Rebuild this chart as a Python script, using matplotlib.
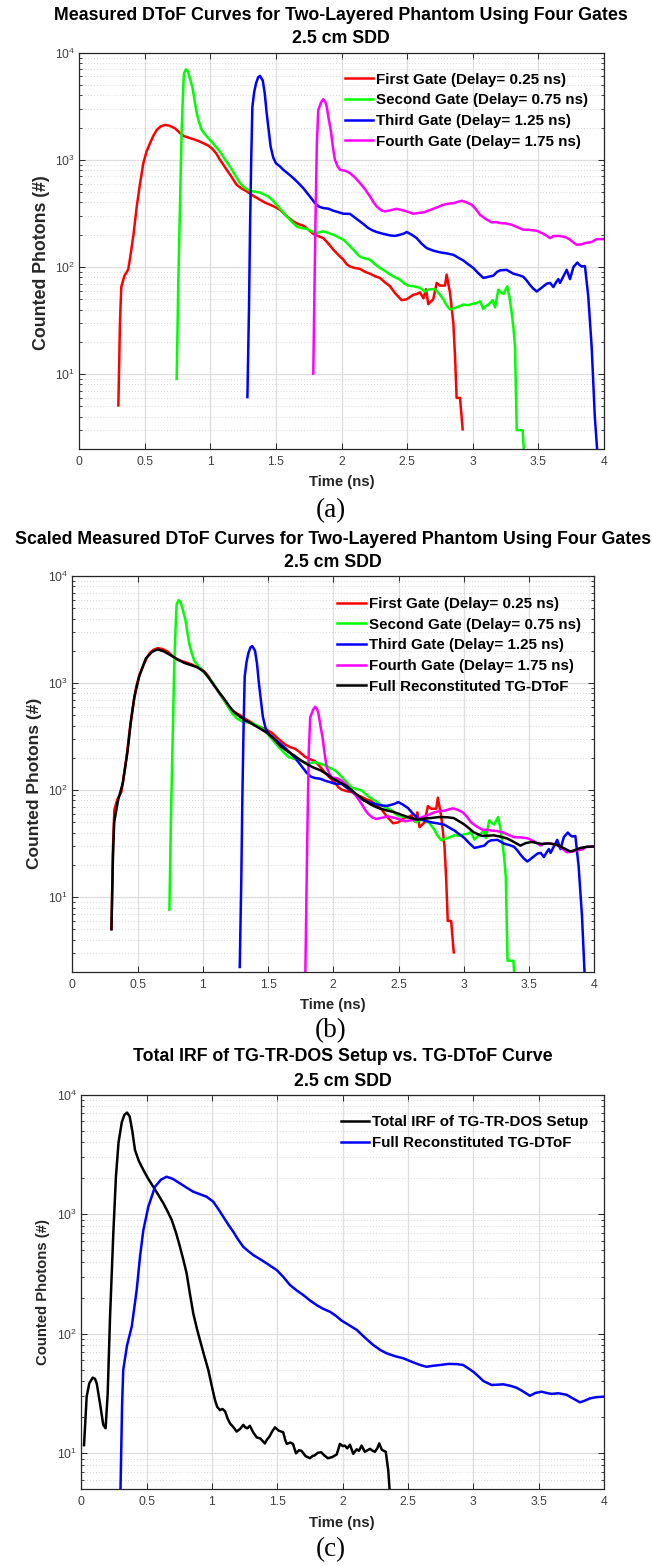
import numpy as np
import matplotlib
matplotlib.use("Agg")
import matplotlib.pyplot as plt
from matplotlib.ticker import (FixedLocator, LogLocator, NullFormatter,
                               FuncFormatter, NullLocator)

plt.rcParams['font.family'] = ['Liberation Sans', 'DejaVu Sans']
plt.rcParams['mathtext.fontset'] = 'custom'
plt.rcParams['mathtext.rm'] = 'Liberation Sans'
plt.rcParams['mathtext.it'] = 'Liberation Sans:italic'
plt.rcParams['mathtext.bf'] = 'Liberation Sans:bold'

# ---------------------------------------------------------------- data
# Gate 1 (delay 0.25 ns)
t_gate1 = [0.300, 0.312, 0.322, 0.345, 0.375, 0.389, 0.415, 0.440, 0.465, 0.490,
           0.515, 0.541, 0.567, 0.592, 0.620, 0.655, 0.690, 0.731, 0.765, 0.795,
           0.835, 0.871, 0.910, 0.947, 0.980, 1.011, 1.045, 1.074, 1.100, 1.125,
           1.160, 1.201, 1.240, 1.278, 1.330, 1.379, 1.415, 1.455, 1.490, 1.531,
           1.580, 1.633, 1.670, 1.709, 1.745, 1.785, 1.820, 1.861, 1.900, 1.938,
           1.975, 2.014, 2.040, 2.065, 2.100, 2.141, 2.180, 2.217, 2.255, 2.293,
           2.330, 2.370, 2.408, 2.458, 2.497, 2.547, 2.575, 2.598, 2.624, 2.644,
           2.661, 2.699, 2.725, 2.750, 2.789, 2.801, 2.827, 2.852, 2.865, 2.877,
           2.903, 2.923]
c_gate1 = [5.1, 30, 65, 82, 95, 121, 200, 367, 600, 930,
           1200, 1430, 1680, 1900, 2040, 2120, 2080, 1970, 1800, 1675,
           1610, 1560, 1500, 1430, 1370, 1285, 1150, 1000, 900, 807,
           700, 585, 540, 507, 460, 424, 400, 381, 365, 342,
           300, 266, 252, 243, 225, 204, 195, 186, 165, 145,
           130, 117, 106, 101, 98, 96, 90, 86.5, 82, 79,
           72, 66, 57, 49, 50, 55, 56, 58, 51, 62,
           45, 50, 71, 67, 67, 85, 57, 30, 14.7, 6.0,
           6.0, 3.05]

# Gate 2 (delay 0.75 ns)
t_gate2 = [0.744, 0.757, 0.770, 0.782, 0.795, 0.800, 0.815, 0.830, 0.848, 0.866,
           0.880, 0.897, 0.915, 0.935, 0.965, 0.998, 1.035, 1.074, 1.110, 1.150,
           1.190, 1.227, 1.265, 1.303, 1.340, 1.379, 1.410, 1.442, 1.475, 1.506,
           1.545, 1.582, 1.620, 1.659, 1.700, 1.735, 1.775, 1.811, 1.861, 1.900,
           1.938, 1.975, 2.014, 2.050, 2.090, 2.120, 2.145, 2.180, 2.217, 2.255,
           2.293, 2.330, 2.370, 2.410, 2.446, 2.480, 2.509, 2.550, 2.598, 2.636,
           2.670, 2.712, 2.745, 2.776, 2.800, 2.827, 2.865, 2.900, 2.928, 2.965,
           3.004, 3.030, 3.055, 3.081, 3.100, 3.120, 3.152, 3.170, 3.195, 3.215,
           3.233, 3.263, 3.280, 3.297, 3.310, 3.322, 3.335, 3.380, 3.390]
c_gate2 = [9.0, 76, 400, 1900, 5000, 6420, 7000, 6700, 5600, 4650,
           3600, 2720, 2250, 1900, 1700, 1535, 1360, 1195, 1020, 867,
           720, 607, 545, 514, 505, 495, 475, 455, 420, 381,
           335, 297, 265, 239, 230, 227, 215, 208, 215, 208,
           200, 190, 180, 163, 145, 132, 124, 120, 117, 106,
           98, 92, 85, 80, 76, 70, 67, 66, 64, 59,
           62, 62, 56, 50, 44, 40, 41.5, 43, 44.6, 44,
           45.5, 46, 47.8, 40.6, 43, 44.6, 49, 42, 61.5, 58,
           56, 66, 52, 37, 27, 18, 3.0, 3.0, 1.9]

# Gate 3 (delay 1.25 ns)
t_gate3 = [1.283, 1.295, 1.303, 1.312, 1.321, 1.335, 1.349, 1.365, 1.379, 1.400,
           1.415, 1.430, 1.445, 1.460, 1.480, 1.500, 1.530, 1.557, 1.595, 1.633,
           1.670, 1.709, 1.750, 1.798, 1.830, 1.861, 1.900, 1.938, 1.975, 2.014,
           2.065, 2.100, 2.141, 2.170, 2.204, 2.235, 2.268, 2.310, 2.370, 2.410,
           2.446, 2.475, 2.497, 2.535, 2.573, 2.610, 2.649, 2.700, 2.750, 2.800,
           2.852, 2.890, 2.928, 2.965, 3.004, 3.040, 3.081, 3.120, 3.157, 3.185,
           3.208, 3.258, 3.285, 3.310, 3.350, 3.385, 3.410, 3.436, 3.460, 3.487,
           3.510, 3.538, 3.565, 3.589, 3.614, 3.635, 3.652, 3.665, 3.690, 3.716,
           3.741, 3.767, 3.797, 3.815, 3.830, 3.855, 3.880, 3.906, 3.930, 3.950]
c_gate3 = [6.1, 40, 223, 1000, 3140, 4300, 5190, 5900, 6070, 5500,
           4200, 2720, 1900, 1330, 1050, 930, 870, 807, 740, 675,
           610, 544, 470, 394, 365, 355, 350, 335, 325, 314,
           313, 290, 266, 250, 231, 220, 212, 205, 197, 195,
           200, 205, 212, 200, 186, 165, 150, 142, 137, 134,
           130, 122, 115, 106, 98, 88, 79, 81, 83, 90,
           93, 94, 90, 86.5, 84, 81, 75, 68, 63, 59,
           62, 66, 70, 71, 65, 72, 77, 71, 81.5, 94,
           77, 100, 110, 104, 101, 102, 53, 18, 4.0, 1.8]

# Gate 4 (delay 1.75 ns)
t_gate4 = [1.785, 1.800, 1.812, 1.823, 1.845, 1.861, 1.875, 1.887, 1.900, 1.918,
           1.935, 1.950, 1.970, 1.989, 2.030, 2.065, 2.100, 2.141, 2.180, 2.217,
           2.245, 2.268, 2.300, 2.331, 2.370, 2.420, 2.460, 2.497, 2.547, 2.590,
           2.624, 2.660, 2.699, 2.740, 2.776, 2.815, 2.852, 2.885, 2.916, 2.955,
           2.992, 3.025, 3.055, 3.100, 3.144, 3.180, 3.208, 3.250, 3.297, 3.340,
           3.385, 3.430, 3.487, 3.538, 3.565, 3.589, 3.614, 3.650, 3.690, 3.715,
           3.741, 3.765, 3.792, 3.830, 3.865, 3.906, 3.944, 4.000]
c_gate4 = [10.1, 200, 1400, 2920, 3450, 3680, 3500, 3160, 2500, 1900,
           1300, 1000, 870, 807, 790, 751, 690, 607, 530, 455,
           400, 367, 340, 330, 338, 349, 340, 330, 314, 320,
           323, 335, 349, 365, 381, 390, 394, 405, 415, 400,
           381, 345, 307, 280, 261, 262, 257, 255, 248, 235,
           223, 222, 218, 204, 195, 186, 194, 195, 192, 188,
           180, 170, 161, 163, 168, 171, 182, 182]

# Scale factors applied to each gate before stitching
gate_scale = [1.0, 0.85, 0.365, 0.163]

# Full reconstituted TG-DToF
t_full = [0.300, 0.312, 0.321, 0.350, 0.386, 0.424, 0.450, 0.475, 0.513, 0.564,
          0.610, 0.653, 0.700, 0.755, 0.810, 0.857, 0.910, 0.959, 1.010, 1.050,
          1.086, 1.125, 1.163, 1.200, 1.239, 1.280, 1.316, 1.370, 1.418, 1.455,
          1.495, 1.545, 1.597, 1.650, 1.699, 1.750, 1.801, 1.850, 1.903, 1.950,
          1.992, 2.050, 2.107, 2.170, 2.234, 2.290, 2.337, 2.400, 2.464, 2.540,
          2.600, 2.643, 2.690, 2.744, 2.810, 2.872, 2.923, 2.960, 2.999, 3.040,
          3.076, 3.140, 3.180, 3.229, 3.280, 3.331, 3.380, 3.433, 3.475, 3.523,
          3.560, 3.597, 3.650, 3.713, 3.770, 3.816, 3.850, 3.892, 3.940, 4.000]
c_full = [5.0, 25, 50, 80, 115, 233, 450, 739, 1158, 1701,
          1950, 2064, 1980, 1815, 1660, 1545, 1470, 1403, 1274, 1100,
          955, 820, 714, 615, 535, 490, 456, 420, 389, 365,
          342, 300, 256, 230, 211, 190, 174, 162, 153, 141,
          129, 118, 108, 93, 80.6, 73, 68.7, 65, 62.4, 57.7,
          54.5, 53, 54, 54.8, 56, 55.8, 54.8, 51.5, 48.2, 44,
          40.3, 37.3, 37.5, 37.8, 36.8, 35.4, 33, 30.3, 32, 32.8,
          32, 31.4, 31.8, 30.9, 28.5, 26.7, 27.5, 28.8, 29.5, 29.8]

# Total IRF of the TG-TR-DOS setup
t_irf = [0.021, 0.041, 0.061, 0.087, 0.105, 0.118, 0.143, 0.168, 0.186, 0.202,
         0.220, 0.245, 0.265, 0.285, 0.310, 0.330, 0.350, 0.370, 0.390, 0.411,
         0.440, 0.475, 0.510, 0.551, 0.590, 0.628, 0.660, 0.692, 0.725, 0.755,
         0.780, 0.806, 0.830, 0.857, 0.885, 0.908, 0.940, 0.972, 1.000, 1.023,
         1.040, 1.061, 1.080, 1.100, 1.120, 1.138, 1.165, 1.189, 1.215, 1.240,
         1.255, 1.270, 1.290, 1.315, 1.342, 1.370, 1.405, 1.420, 1.440, 1.460,
         1.482, 1.510, 1.545, 1.560, 1.572, 1.600, 1.620, 1.633, 1.643, 1.665,
         1.685, 1.715, 1.750, 1.770, 1.785, 1.810, 1.836, 1.860, 1.887, 1.920,
         1.955, 1.979, 2.000, 2.017, 2.035, 2.056, 2.081, 2.107, 2.125, 2.145,
         2.170, 2.190, 2.210, 2.230, 2.247, 2.265, 2.280, 2.300, 2.330, 2.349,
         2.362]
c_irf = [11.7, 29.8, 38.5, 43, 42, 38.5, 26.2, 17.3, 16.2, 31.8,
         139, 693, 2064, 4000, 5900, 6800, 7100, 6600, 5000, 3450,
         2800, 2350, 2000, 1700, 1450, 1236, 1060, 896, 700, 535,
         420, 321, 220, 148, 110, 88.7, 66, 49.8, 36, 27.9,
         24.5, 23, 23.5, 22.5, 19.5, 17.8, 16.5, 15.2, 16, 17.3,
         16.5, 16.2, 17, 15, 13.6, 13.3, 12.1, 13, 13.8, 15.2,
         16.5, 15.5, 15, 13, 12.0, 12.3, 12, 10.8, 10, 10.6,
         10.5, 9.5, 9.1, 9.5, 9.6, 10.1, 10.2, 9.6, 9.1, 9.3,
         9.8, 12, 11.5, 11.6, 11, 11.8, 9.9, 10.8, 10.5, 11.6,
         10.3, 10.6, 10.9, 10.5, 10.3, 11, 12.1, 10.7, 10.3, 7.2,
         4.5]

gate_labels = ['First Gate (Delay= 0.25 ns)', 'Second Gate (Delay= 0.75 ns)',
               'Third Gate (Delay= 1.25 ns)', 'Fourth Gate (Delay= 1.75 ns)']
full_label = 'Full Reconstituted TG-DToF'
irf_label = 'Total IRF of TG-TR-DOS Setup'
x_ticks = [0, 0.5, 1, 1.5, 2, 2.5, 3, 3.5, 4]
x_tick_labels = ['0', '0.5', '1', '1.5', '2', '2.5', '3', '3.5', '4']
y_ticks = [1e1, 1e2, 1e3, 1e4]

# ---------------------------------------------------------------- figure
W, H = 652, 1566
fig = plt.figure(figsize=(W / 100, H / 100), dpi=100)
gate_colors = ['#ff0000', '#00ff00', '#0000ff', '#ff00ff']
LW = 1.8
TITLE_FS = 12.8
LABEL_FS = 10.7
TICK_FS = 8.7


def fx(px):
    return px / W


def fy(py):
    return 1 - py / H


def make_axes(left, top, right, bottom):
    ax = fig.add_axes([fx(left), fy(bottom), (right - left) / W, (bottom - top) / H])
    ax._px_box = (left, top, right, bottom)
    return ax


def style_axes(ax, ymin):
    ax.set_yscale('log')
    ax.set_xlim(0, 4)
    ax.set_ylim(ymin, 1e4)
    ax.xaxis.set_major_locator(FixedLocator(x_ticks))
    ax.set_xticklabels(x_tick_labels)
    ax.xaxis.set_minor_locator(NullLocator())
    ax.yaxis.set_major_locator(FixedLocator(y_ticks))
    ax.yaxis.set_major_formatter(FuncFormatter(
        lambda v, p: r'$\mathregular{10^{%d}}$' % int(round(np.log10(v)))))
    ax.yaxis.set_minor_locator(LogLocator(base=10, subs=np.arange(2, 10)))
    ax.yaxis.set_minor_formatter(NullFormatter())
    ax.tick_params(which='both', direction='in', top=True, right=True,
                   color='#262626', labelcolor='#404040', labelsize=TICK_FS)
    ax.tick_params(which='major', length=4, width=0.7)
    ax.tick_params(which='minor', length=2.2, width=0.6)
    ax.tick_params(axis='x', pad=5)
    ax.tick_params(axis='y', pad=3)
    ax.grid(which='major', color='#dedede', lw=0.9, ls='-')
    ax.grid(which='minor', axis='y', color='#cccccc', lw=0.6, ls=(0, (1, 2.5)))
    ax.set_axisbelow(True)
    for s in ax.spines.values():
        s.set_color('#262626')
        s.set_linewidth(0.9)


def label_axes(ax, title, xlab_px, ylab_px, title_px, ylab_fs):
    l, t, r, b = ax._px_box
    ax.set_xlabel('Time (ns)', fontsize=LABEL_FS, fontweight='bold', color='#262626')
    ax.xaxis.set_label_coords((xlab_px[0] - l) / (r - l), (b - xlab_px[1]) / (b - t))
    ax.xaxis.label.set_va('center')
    ax.set_ylabel('Counted Photons (#)', fontsize=ylab_fs, fontweight='bold',
                  color='#262626')
    ax.yaxis.set_label_coords((ylab_px[0] - l) / (r - l), (b - ylab_px[1]) / (b - t))
    ax.yaxis.label.set_va('center')
    for line, (x, y) in zip(title, title_px):
        fig.text(fx(x), fy(y), line, fontsize=TITLE_FS, fontweight='bold',
                 ha='center', va='center', color='black')


def add_legend(ax, left_px, first_row_px):
    ax.legend(loc='upper left', bbox_to_anchor=(fx(left_px), fy(first_row_px - 5.7)),
              bbox_transform=fig.transFigure, frameon=False, borderpad=0,
              borderaxespad=0, handlelength=1.85, handletextpad=0.2,
              labelspacing=0.44, prop={'weight': 'bold', 'size': 10.9})


gates = [(t_gate1, c_gate1), (t_gate2, c_gate2), (t_gate3, c_gate3), (t_gate4, c_gate4)]

# (a) measured gates
ax_a = make_axes(79, 52.7, 604, 449)
style_axes(ax_a, 2)
for (t, c), col, lab in zip(gates, gate_colors, gate_labels):
    ax_a.plot(t, c, color=col, lw=LW, label=lab, solid_joinstyle='round')
add_legend(ax_a, 345, 78.3)
label_axes(ax_a, ['Measured DToF Curves for Two-Layered Phantom Using Four Gates',
                  '2.5 cm SDD'],
           (341.5, 481.7), (41.7, 263), [(341, 15), (341, 38.3)], 12.8)

# (b) scaled gates and stitched curve
ax_b = make_axes(72.3, 576, 594.3, 972)
style_axes(ax_b, 2)
for (t, c), k, col, lab in zip(gates, gate_scale, gate_colors, gate_labels):
    ax_b.plot(t, np.asarray(c) * k, color=col, lw=LW, label=lab, solid_joinstyle='round')
ax_b.plot(t_full, c_full, color='black', lw=LW, label=full_label, solid_joinstyle='round')
add_legend(ax_b, 337.5, 602.7)
label_axes(ax_b, ['Scaled Measured DToF Curves for Two-Layered Phantom Using Four Gates',
                  '2.5 cm SDD'],
           (333.3, 1005), (35, 783), [(333, 539.3), (333, 562.7)], 12.5)

# (c) IRF vs stitched curve
ax_c = make_axes(81.3, 1094.8, 604, 1489.3)
style_axes(ax_c, 5)
ax_c.plot(t_irf, c_irf, color='black', lw=LW, label=irf_label, solid_joinstyle='round')
ax_c.plot(t_full, c_full, color='#0000ff', lw=LW, label=full_label, solid_joinstyle='round')
add_legend(ax_c, 341, 1121)
label_axes(ax_c, ['Total IRF of TG-TR-DOS Setup vs. TG-DToF Curve', '2.5 cm SDD'],
           (342, 1522.7), (43.5, 1292), [(342.7, 1056.7), (342.7, 1081.7)], LABEL_FS)

# panel letters
for txt, y in [('(a)', 511), ('(b)', 1031), ('(c)', 1550)]:
    fig.text(fx(331), fy(y), txt, family='Liberation Serif', fontsize=19.5,
             ha='center', va='center', color='black')

fig.savefig('out.png', dpi=100, facecolor='white')
